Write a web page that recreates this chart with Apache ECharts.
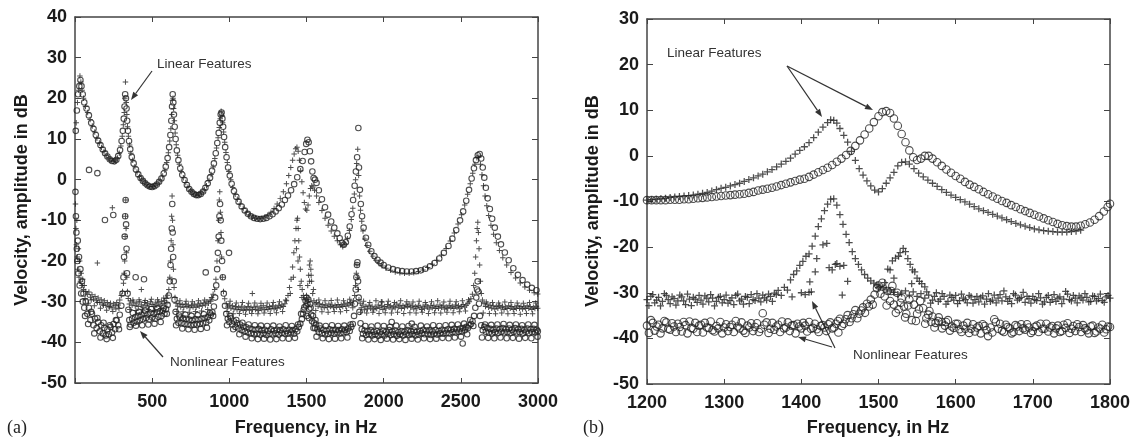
<!DOCTYPE html>
<html>
<head>
<meta charset="utf-8">
<script src="https://cdn.jsdelivr.net/npm/echarts@6/dist/echarts.min.js"></script>
<style>
  html, body { margin: 0; padding: 0; background: #fff; }
  #chart { width: 1140px; height: 443px; }
</style>
</head>
<body>
<div id="chart"></div>
<script>
// (a) full band, 0-3000 Hz  [frequency Hz, amplitude dB]
var linCircA = [[5,12],[12,17],[20,21],[28,23],[35,24.5],[42,23],[50,21],[60,19],[75,17.5],[90,15.8],[105,14],[120,12.5],[135,11],[150,9.6],[165,8.5],[180,7.4],[195,6.5],[210,5.7],[225,5],[240,4.6],[255,4.5],[268,4.9],[280,5.8],[292,7.3],[302,9.5],[310,12],[316,15],[321,18],[325,21],[330,20],[334,17.5],[338,14.5],[343,12],[350,9.5],[358,7.5],[368,5.6],[380,4],[395,2.5],[410,1.3],[425,0.4],[440,-0.3],[455,-0.9],[470,-1.4],[485,-1.7],[500,-1.8],[515,-1.6],[530,-1.2],[545,-0.5],[560,0.3],[575,1.5],[588,3.2],[600,5.3],[610,8],[618,11],[624,14.5],[629,18],[633,21],[637,19],[641,16],[646,13],[652,10],[660,7.2],[670,4.8],[682,2.8],[695,1.2],[710,-0.1],[725,-1.3],[740,-2.3],[755,-3],[770,-3.5],[785,-3.8],[800,-3.8],[815,-3.5],[830,-2.9],[845,-2],[860,-0.9],[875,0.5],[888,2.2],[900,4],[912,6.5],[922,9],[931,11.5],[938,14],[944,16],[950,16.5],[955,15],[960,13],[966,10.5],[973,8],[982,5.5],[992,3],[1003,1],[1015,-1],[1030,-2.8],[1045,-4.2],[1060,-5.4],[1080,-6.6],[1100,-7.6],[1120,-8.4],[1140,-9],[1160,-9.4],[1180,-9.6],[1200,-9.7],[1220,-9.6],[1240,-9.4],[1260,-9],[1280,-8.5],[1300,-7.8],[1320,-7],[1340,-6.1],[1360,-5],[1380,-3.9],[1400,-2.6],[1420,-1.1],[1440,0.6],[1460,2.6],[1475,4.6],[1488,6.8],[1498,8.8],[1506,9.8],[1514,9.2],[1522,7],[1530,4.5],[1538,2],[1546,0.4],[1555,0],[1565,-0.8],[1580,-2.6],[1600,-4.8],[1620,-6.8],[1640,-8.6],[1660,-10.3],[1680,-11.8],[1700,-13.2],[1715,-14.4],[1730,-15.5],[1742,-16],[1755,-15.4],[1768,-13.8],[1780,-11.5],[1792,-8.5],[1802,-5],[1812,-1.5],[1820,2],[1828,5.5],[1836,12.7],[1840,3],[1846,-2.5],[1852,-6],[1860,-9],[1870,-11.8],[1885,-14.3],[1900,-16],[1920,-17.6],[1940,-18.8],[1960,-19.7],[1980,-20.4],[2000,-21],[2030,-21.6],[2060,-22],[2090,-22.3],[2120,-22.5],[2150,-22.6],[2180,-22.6],[2210,-22.5],[2240,-22.3],[2270,-21.9],[2300,-21.3],[2330,-20.5],[2360,-19.4],[2390,-18],[2420,-16.3],[2445,-14.5],[2470,-12.4],[2495,-10],[2515,-7.8],[2535,-5.2],[2553,-2.5],[2570,0.3],[2585,2.8],[2598,4.8],[2610,6],[2622,6.3],[2632,5.2],[2642,3],[2652,0.5],[2662,-2],[2674,-4.6],[2688,-7.2],[2703,-9.6],[2720,-11.8],[2740,-14],[2760,-15.9],[2785,-17.9],[2810,-19.8],[2840,-21.8],[2870,-23.4],[2900,-24.7],[2930,-25.8],[2960,-26.6],[2990,-27.2]];

var linPlusA = [[8,14],[16,19],[24,22],[32,25.5],[38,24],[46,22],[55,20],[68,18],[82,16.5],[98,14.8],[112,13.2],[128,11.7],[142,10.2],[158,9],[172,7.9],[188,6.9],[202,6],[218,5.3],[232,4.8],[248,4.5],[262,4.6],[275,5.3],[287,6.5],[297,8.3],[306,10.7],[313,13.5],[319,16.5],[323,20],[327,24],[332,19],[336,16],[340,13],[346,10.7],[354,8.5],[362,6.5],[374,4.8],[388,3.2],[402,1.9],[418,0.8],[432,0],[448,-0.6],[462,-1.2],[478,-1.6],[492,-1.8],[508,-1.7],[522,-1.4],[538,-0.9],[552,-0.1],[568,0.9],[582,2.3],[594,4.2],[605,6.6],[614,9.5],[621,12.5],[627,16],[631,19.5],[635,20],[639,17.5],[644,14.5],[649,11.5],[656,8.6],[665,6],[676,3.8],[688,2],[702,0.5],[718,-0.7],[732,-1.8],[748,-2.7],[762,-3.3],[778,-3.7],[792,-3.9],[808,-3.7],[822,-3.2],[838,-2.5],[852,-1.5],[868,-0.2],[882,1.3],[895,3.1],[906,5.2],[917,7.8],[927,10.3],[935,12.8],[941,15],[947,16.8],[952,15.8],[957,14],[963,11.7],[970,9.2],[978,6.7],[987,4.2],[997,2],[1009,0],[1022,-1.9],[1038,-3.6],[1052,-4.8],[1070,-6],[1090,-7.1],[1110,-8],[1130,-8.7],[1150,-9.2],[1170,-9.5],[1190,-9.6],[1210,-9.5],[1230,-9.2],[1250,-8.7],[1270,-8],[1290,-7.1],[1310,-6],[1330,-4.6],[1350,-3],[1370,-1],[1385,1],[1398,3],[1410,4.8],[1420,6.3],[1430,7.6],[1438,8],[1446,7],[1454,4.8],[1462,2.2],[1470,-0.5],[1478,-3.2],[1486,-5.6],[1494,-7.2],[1502,-7.5],[1510,-6.2],[1518,-4],[1526,-2.2],[1534,-1.5],[1542,-1.8],[1552,-2.6],[1565,-4],[1580,-5.6],[1600,-7.6],[1620,-9.5],[1640,-11.2],[1660,-12.6],[1680,-13.9],[1700,-15],[1720,-16],[1735,-16.5],[1750,-15.8],[1765,-14.5],[1778,-12.5],[1790,-9.8],[1800,-7],[1810,-3.5],[1818,0],[1825,4],[1832,7.5],[1838,1],[1844,-4],[1850,-7.5],[1858,-10.2],[1866,-12.6],[1878,-14.6],[1892,-16.2],[1910,-17.6],[1930,-18.8],[1950,-19.8],[1970,-20.6],[1990,-21.2],[2015,-21.8],[2045,-22.3],[2075,-22.7],[2105,-22.9],[2135,-23],[2165,-23],[2195,-22.9],[2225,-22.6],[2255,-22.2],[2285,-21.6],[2315,-20.8],[2345,-19.8],[2375,-18.5],[2405,-16.9],[2432,-15.1],[2458,-13.1],[2482,-10.9],[2505,-8.6],[2525,-6.2],[2544,-3.6],[2561,-1],[2577,1.6],[2591,3.8],[2604,5.4],[2616,5.5],[2627,3.8],[2637,1.2],[2647,-1.5],[2657,-4],[2668,-6.4],[2680,-8.8],[2695,-11.2],[2712,-13.4],[2730,-15.5],[2750,-17.4],[2772,-19.2],[2797,-21],[2825,-22.8],[2855,-24.2],[2885,-25.4],[2915,-26.4],[2945,-27.2],[2975,-27.8],[2998,-28.1]];

var nlPlusA = [[3,-6],[6,-12],[9,-16],[12,-10],[15,-19],[18,-22],[22,-17],[26,-24],[30,-20],[35,-25],[40,-23],[45,-26],[50,-24.5],[55,-27],[60,-26],[70,-27.5],[80,-28.2],[90,-27.6],[100,-28.9],[110,-28.3],[120,-29.4],[130,-28.7],[140,-29.8],[150,-29.1],[160,-30.2],[170,-29.5],[180,-30.6],[190,-29.8],[200,-30.9],[210,-30.2],[220,-31.2],[230,-30.4],[240,-31.5],[250,-30.6],[260,-31],[270,-30.2],[280,-30.8],[290,-29.6],[300,-28.5],[308,-27.5],[314,-25.5],[318,-23],[322,-20],[325,-14],[327,-9],[329,-5],[331,-12],[333,-18],[336,-24],[340,-27.5],[345,-29.2],[352,-30.6],[360,-29.8],[370,-30.9],[380,-30.1],[390,-31],[400,-30.3],[410,-31.2],[420,-30],[430,-30.8],[440,-31.3],[450,-30.2],[460,-30.9],[470,-30.4],[480,-31.1],[490,-30],[500,-30.7],[510,-31.2],[520,-30.3],[530,-30.9],[540,-30.1],[550,-30.8],[560,-29.9],[570,-30.5],[580,-29.8],[590,-29.2],[600,-28.4],[608,-27],[614,-24],[619,-20],[623,-15],[626,-9],[629,-4],[632,-10],[635,-16],[638,-22],[642,-26.5],[648,-29],[655,-30.4],[665,-31.1],[675,-30.5],[685,-31.3],[695,-30.7],[705,-31.4],[715,-30.6],[725,-31.2],[735,-30.8],[745,-31.5],[755,-30.9],[765,-31.3],[775,-30.6],[785,-31.4],[795,-30.8],[805,-31.1],[815,-30.4],[825,-31],[835,-30.3],[845,-30.8],[855,-30],[865,-30.4],[875,-29.6],[885,-29],[895,-28.2],[905,-27],[913,-24.5],[920,-20],[926,-15],[931,-10],[935,-5],[938,-3],[942,-8],[946,-13],[950,-19],[955,-24],[962,-27.5],[970,-29.3],[980,-30.5],[990,-31.3],[1000,-30.8],[1010,-31.6],[1020,-31],[1030,-31.8],[1040,-31.2],[1050,-32],[1060,-31.4],[1070,-31.9],[1080,-31.1],[1090,-32.2],[1100,-31.5],[1110,-31.9],[1120,-31.2],[1130,-32.1],[1140,-31.4],[1150,-32],[1160,-31.3],[1170,-31.9],[1180,-31.1],[1190,-32.2],[1200,-31.5],[1210,-31.8],[1220,-31],[1230,-32],[1240,-31.4],[1250,-31.9],[1260,-31.2],[1270,-31.7],[1280,-31],[1290,-31.8],[1300,-31.3],[1310,-31.6],[1320,-30.9],[1330,-31.4],[1340,-30.8],[1350,-31.2],[1360,-30.5],[1370,-29.8],[1380,-28.5],[1390,-26.5],[1400,-24.5],[1410,-21.5],[1418,-18],[1425,-15],[1432,-12],[1438,-10],[1442,-9.5],[1446,-12],[1450,-15],[1455,-19],[1460,-22],[1466,-25],[1472,-27],[1480,-28.5],[1490,-29.5],[1500,-28.5],[1508,-26],[1514,-23.5],[1519,-21],[1524,-20],[1528,-22],[1533,-25],[1540,-28],[1548,-29.8],[1556,-30.6],[1565,-30.2],[1575,-31.1],[1585,-30.5],[1595,-31.3],[1605,-30.7],[1615,-31.5],[1625,-30.9],[1635,-31.4],[1645,-30.6],[1655,-31.2],[1665,-30.8],[1675,-31.5],[1685,-30.9],[1695,-31.3],[1705,-30.7],[1715,-31.4],[1725,-30.8],[1735,-31.2],[1745,-30.6],[1755,-31.1],[1765,-30.3],[1775,-30.9],[1785,-30.2],[1795,-30.6],[1805,-29.8],[1812,-28.5],[1818,-26],[1823,-23],[1827,-21],[1831,-24],[1835,-27],[1840,-29.5],[1848,-30.4],[1855,-31.5],[1865,-30.8],[1875,-32],[1885,-31.2],[1895,-31.8],[1905,-30.9],[1915,-31.6],[1925,-31.1],[1935,-32],[1945,-31.3],[1955,-31.7],[1965,-30.8],[1975,-31.5],[1985,-31],[1995,-31.9],[2005,-31.2],[2015,-31.6],[2025,-30.7],[2035,-31.4],[2045,-31],[2055,-31.8],[2065,-31.1],[2075,-31.5],[2085,-30.6],[2095,-31.3],[2105,-30.9],[2115,-31.7],[2125,-31],[2135,-31.5],[2145,-30.8],[2155,-31.2],[2165,-30.6],[2175,-31.4],[2185,-31],[2195,-31.8],[2205,-31.2],[2215,-31.6],[2225,-30.9],[2235,-31.4],[2245,-31.9],[2255,-31.1],[2265,-31.6],[2275,-30.8],[2285,-31.3],[2295,-31.8],[2305,-31],[2315,-31.5],[2325,-30.9],[2335,-31.7],[2345,-31.2],[2355,-31.6],[2365,-30.8],[2375,-31.4],[2385,-31],[2395,-31.8],[2405,-31.3],[2415,-31.6],[2425,-30.9],[2435,-31.5],[2445,-31.1],[2455,-31.7],[2465,-30.8],[2475,-31.4],[2485,-31],[2495,-31.6],[2505,-31.2],[2515,-30.7],[2525,-31.3],[2535,-30.9],[2545,-30.4],[2555,-30],[2565,-29.3],[2575,-28.2],[2583,-26],[2590,-23],[2596,-19],[2601,-15],[2606,-12],[2610,-10.5],[2614,-13],[2618,-17],[2622,-21],[2627,-25],[2633,-28],[2640,-29.6],[2650,-30.4],[2660,-31.2],[2670,-30.6],[2680,-31.4],[2690,-30.9],[2700,-31.6],[2710,-31],[2720,-31.8],[2730,-31.2],[2740,-31.6],[2750,-30.9],[2760,-31.5],[2770,-31.1],[2780,-31.9],[2790,-31.3],[2800,-31.7],[2810,-31],[2820,-31.6],[2830,-31.2],[2840,-31.9],[2850,-31.3],[2860,-31.7],[2870,-31],[2880,-31.6],[2890,-31.2],[2900,-31.8],[2910,-31.3],[2920,-31.7],[2930,-31],[2940,-31.6],[2950,-31.2],[2960,-31.9],[2970,-31.4],[2980,-31.7],[2990,-31.1],[2998,-31.6],
  [145,-20.5],[242,-6.9],[430,-27],[1149,-28],[1985,-30]];

// second sweep of the same band, read from the lower and upper edges
var nlPlusA2 = [[65,-29.2],[85,-30.4],[105,-29.6],[125,-31],[145,-30.2],[165,-31.6],[185,-30.9],[205,-32.1],[225,-31.3],[245,-32.4],[265,-31.8],[285,-31.6],[355,-31.9],[375,-29.6],[395,-32.2],[415,-29.5],[435,-32],[455,-29.7],[475,-31.9],[495,-29.4],[515,-32.1],[535,-29.5],[555,-31.7],[575,-29.1],[595,-30.3],[660,-32.4],[680,-29.8],[700,-32.5],[720,-29.9],[740,-32.6],[760,-30],[780,-32.4],[800,-29.8],[820,-32.3],[840,-29.6],[860,-31.9],[880,-29.9],[985,-32.4],[1005,-29.9],[1025,-33],[1045,-30.3],[1065,-32.9],[1085,-30.2],[1105,-33.1],[1125,-30.4],[1145,-32.9],[1165,-30.3],[1185,-33],[1205,-30.4],[1225,-32.8],[1245,-30.3],[1265,-32.9],[1285,-30.2],[1305,-32.7],[1325,-30],[1345,-32.4],[1365,-29.6],[1395,-28],[1415,-24],[1435,-17],[1445,-20],[1458,-26],[1470,-29],[1510,-29.5],[1520,-25],[1530,-23.5],[1545,-27],[1560,-32.2],[1580,-29.6],[1600,-32.5],[1620,-29.8],[1640,-32.6],[1660,-29.7],[1680,-32.4],[1700,-29.6],[1720,-32.5],[1740,-29.8],[1760,-32.2],[1780,-29.4],[1800,-31.5],[1850,-32.6],[1870,-29.9],[1890,-32.8],[1910,-30.2],[1930,-32.6],[1950,-29.8],[1970,-32.9],[1990,-30.1],[2010,-32.7],[2030,-29.9],[2050,-32.8],[2070,-30.2],[2090,-32.6],[2110,-29.8],[2130,-32.9],[2150,-30],[2170,-32.7],[2190,-30.1],[2210,-32.8],[2230,-29.9],[2250,-32.6],[2270,-30.2],[2290,-32.9],[2310,-30],[2330,-32.7],[2350,-29.8],[2370,-32.8],[2390,-30.1],[2410,-32.6],[2430,-29.9],[2450,-32.7],[2470,-30],[2490,-32.5],[2510,-29.8],[2530,-32.3],[2550,-29.5],[2645,-32.8],[2665,-30.1],[2685,-32.9],[2705,-30.2],[2725,-33],[2745,-30.3],[2765,-32.8],[2785,-30.1],[2805,-33],[2825,-30.2],[2845,-32.9],[2865,-30.3],[2885,-33.1],[2905,-30.4],[2925,-32.9],[2945,-30.2],[2965,-33],[2985,-30.3]];

var nlCircA = [[3,-3],[6,-9],[9,-13],[12,-17],[15,-20],[18,-15],[22,-23],[26,-19],[30,-26],[35,-22],[40,-28],[45,-25],[50,-30],[55,-28],[60,-31.5],[70,-30],[80,-33],[90,-31.5],[100,-34.5],[110,-33],[120,-35.8],[130,-34.2],[140,-36.5],[150,-35],[160,-37.3],[170,-35.8],[180,-37.8],[190,-36.4],[200,-38.3],[210,-36.8],[220,-38],[230,-36.2],[240,-37.6],[250,-35.5],[260,-36.8],[270,-34.6],[280,-35.8],[290,-33.2],[300,-31],[308,-28],[314,-24],[318,-19],[322,-14],[325,-9],[328,-5],[331,-11],[334,-17],[337,-23],[341,-28],[346,-32],[352,-34.5],[360,-35.6],[370,-34.2],[380,-35.2],[390,-33.8],[400,-34.9],[410,-33.5],[420,-34.6],[430,-33.2],[440,-34.3],[450,-32.9],[460,-34],[470,-33.1],[480,-34.4],[490,-32.8],[500,-33.9],[510,-33],[520,-34.2],[530,-32.6],[540,-33.7],[550,-32.4],[560,-33.5],[570,-32.2],[580,-33],[590,-31.8],[600,-30.8],[608,-28.5],[614,-25],[619,-21],[623,-17],[627,-12],[630,-6],[633,-13],[636,-19],[640,-25],[645,-29.5],[652,-32.5],[660,-34.2],[670,-35.2],[680,-33.9],[690,-35.3],[700,-34.1],[710,-35.5],[720,-34.2],[730,-35.6],[740,-34.4],[750,-35.8],[760,-34.5],[770,-35.7],[780,-34.3],[790,-35.6],[800,-34.4],[810,-35.5],[820,-34.2],[830,-35.3],[840,-34],[850,-35.1],[860,-33.8],[870,-34.6],[880,-33.2],[890,-32.6],[900,-31.2],[908,-29],[915,-26],[921,-22],[926,-18],[931,-14],[936,-9],[940,-6],[944,-10],[948,-15],[953,-20],[958,-24],[964,-28],[972,-31],[980,-33],[990,-34.2],[1000,-35],[1010,-34.1],[1020,-35.6],[1030,-34.8],[1040,-36.2],[1050,-35.3],[1060,-36.6],[1070,-35.6],[1080,-37],[1090,-36.1],[1100,-37.3],[1110,-36.3],[1120,-37.6],[1130,-36.6],[1140,-37.8],[1150,-36.8],[1160,-38],[1170,-36.9],[1180,-37.9],[1190,-36.7],[1200,-38.1],[1210,-37],[1220,-37.8],[1230,-36.9],[1240,-38.2],[1250,-37.2],[1260,-37.9],[1270,-36.8],[1280,-38],[1290,-37.1],[1300,-37.8],[1310,-36.9],[1320,-38.1],[1330,-37],[1340,-37.7],[1350,-36.8],[1360,-37.9],[1370,-37.2],[1380,-37.8],[1390,-36.9],[1400,-37.6],[1410,-37],[1420,-37.9],[1430,-36.8],[1440,-37.3],[1450,-36.2],[1460,-35.4],[1470,-34.3],[1478,-33],[1486,-31.4],[1494,-29.8],[1500,-29],[1506,-30.5],[1512,-29.5],[1518,-31.8],[1524,-30.6],[1530,-33.2],[1536,-34.8],[1542,-33.5],[1548,-35.2],[1555,-36.4],[1562,-35.6],[1570,-36.8],[1580,-37.5],[1590,-36.6],[1600,-37.8],[1610,-36.9],[1620,-38],[1630,-37.1],[1640,-37.9],[1650,-36.8],[1660,-37.7],[1670,-37],[1680,-37.9],[1690,-36.9],[1700,-37.6],[1710,-37],[1720,-37.8],[1730,-36.8],[1740,-37.6],[1750,-36.9],[1760,-37.5],[1770,-36.6],[1780,-37.2],[1790,-36.2],[1800,-35.5],[1808,-33.5],[1814,-30.5],[1819,-27],[1823,-24],[1827,-21],[1830,-20.3],[1834,-25],[1838,-29],[1843,-32.5],[1850,-35.3],[1858,-36.8],[1866,-37.9],[1876,-37.1],[1886,-38.2],[1896,-37.3],[1906,-38],[1916,-37],[1926,-38.3],[1936,-37.4],[1946,-38.1],[1956,-37.2],[1966,-38.4],[1976,-37.5],[1986,-38],[1996,-37.1],[2006,-38.3],[2016,-37.4],[2026,-37.9],[2036,-37],[2046,-38.2],[2056,-37.3],[2066,-38],[2076,-37.1],[2086,-38.4],[2096,-37.5],[2106,-38.1],[2116,-37.2],[2126,-38.3],[2136,-37.4],[2146,-37.9],[2156,-37],[2166,-38.2],[2176,-37.3],[2186,-38],[2196,-37.1],[2206,-38.3],[2216,-37.4],[2226,-38.1],[2236,-37.2],[2246,-37.8],[2256,-36.9],[2266,-38],[2276,-37.1],[2286,-37.9],[2296,-37],[2306,-38.2],[2316,-37.3],[2326,-37.9],[2336,-37],[2346,-38.1],[2356,-37.2],[2366,-37.8],[2376,-36.9],[2386,-37.9],[2396,-37.1],[2406,-37.7],[2416,-36.8],[2426,-37.8],[2436,-36.9],[2446,-37.5],[2456,-36.7],[2466,-37.6],[2476,-36.8],[2486,-37.4],[2496,-36.6],[2506,-37.3],[2516,-36.5],[2526,-37],[2536,-36.2],[2546,-36.5],[2556,-35.8],[2566,-35.5],[2576,-34.8],[2586,-33.5],[2594,-31.5],[2600,-29],[2605,-27],[2609,-25],[2613,-27.5],[2618,-30.5],[2624,-33.5],[2632,-35.8],[2642,-37],[2652,-36.2],[2662,-37.4],[2672,-36.5],[2682,-37.6],[2692,-36.7],[2702,-37.8],[2712,-36.9],[2722,-37.5],[2732,-36.6],[2742,-37.7],[2752,-36.8],[2762,-37.4],[2772,-36.5],[2782,-37.6],[2792,-36.8],[2802,-37.5],[2812,-36.6],[2822,-37.7],[2832,-36.9],[2842,-37.4],[2852,-36.5],[2862,-37.6],[2872,-36.8],[2882,-37.5],[2892,-36.7],[2902,-37.8],[2912,-36.9],[2922,-37.4],[2932,-36.6],[2942,-37.7],[2952,-36.8],[2962,-37.5],[2972,-36.7],[2982,-37.6],[2992,-36.9],[2999,-37.3],
  [91,2.4],[145,1.6],[194,-9.9],[248,-8.7],[393,-24],[447,-24.5],[847,-22.8],[998,-18],[2052,-35],[2182,-35.4],[2512,-40.3]];

var nlCircA2 = [[65,-33.5],[85,-35.5],[105,-32.5],[125,-37.8],[145,-34],[165,-38.8],[185,-35.2],[205,-39.2],[225,-35.8],[245,-38.9],[265,-34.5],[285,-36.8],[355,-36.2],[375,-32.8],[395,-35.9],[415,-32.5],[435,-35.8],[455,-32.2],[475,-35.6],[495,-31.8],[515,-35.4],[535,-31.7],[555,-35],[575,-31.5],[595,-33],[655,-35.8],[675,-33.4],[695,-36.6],[715,-33.2],[735,-36.8],[755,-33.5],[775,-36.9],[795,-33.3],[815,-36.7],[835,-33.1],[855,-36.4],[875,-32.8],[895,-33.5],[985,-35.8],[1005,-33.5],[1025,-36.8],[1045,-34.5],[1065,-38],[1085,-35.2],[1105,-38.6],[1125,-35.6],[1145,-39],[1165,-35.8],[1185,-39.2],[1205,-35.9],[1225,-39.1],[1245,-36],[1265,-39.3],[1285,-35.9],[1305,-39.2],[1325,-36.1],[1345,-39],[1365,-35.8],[1385,-39.1],[1405,-36],[1425,-38.9],[1445,-35.6],[1465,-33],[1482,-32],[1497,-31],[1503,-33.5],[1515,-34],[1527,-31.5],[1545,-36.5],[1558,-34.5],[1565,-38.6],[1585,-35.9],[1605,-39],[1625,-36],[1645,-39.2],[1665,-35.8],[1685,-39.1],[1705,-36],[1725,-39],[1745,-35.9],[1765,-38.8],[1785,-35.6],[1861,-39],[1881,-36],[1901,-39.3],[1921,-36.1],[1941,-39.2],[1961,-35.9],[1981,-39.4],[2001,-36],[2021,-39.1],[2041,-36.2],[2061,-39.3],[2081,-35.9],[2101,-39.2],[2121,-36.1],[2141,-39.4],[2161,-36],[2181,-39.1],[2201,-36.2],[2221,-39.3],[2241,-35.9],[2261,-39],[2281,-36.1],[2301,-39.2],[2321,-35.8],[2341,-39.1],[2361,-36],[2381,-38.9],[2401,-35.8],[2421,-39],[2441,-35.7],[2461,-38.8],[2481,-35.6],[2501,-38.6],[2521,-35.4],[2541,-38],[2561,-34.5],[2581,-36],[2637,-38.8],[2657,-35.6],[2677,-38.9],[2697,-35.7],[2717,-39],[2737,-35.6],[2757,-38.8],[2777,-35.5],[2797,-39],[2817,-35.7],[2837,-38.9],[2857,-35.6],[2877,-39.1],[2897,-35.8],[2917,-38.9],[2937,-35.6],[2957,-39],[2977,-35.7],[2997,-38.6]];

// (b) zoom, 1200-1800 Hz
var linCircB = [[1200,-9.7],[1206,-9.7],[1212,-9.7],[1218,-9.7],[1224,-9.7],[1230,-9.6],[1236,-9.6],[1242,-9.6],[1248,-9.5],[1254,-9.5],[1260,-9.4],[1266,-9.3],[1272,-9.2],[1278,-9.1],[1284,-9],[1290,-8.9],[1296,-8.8],[1302,-8.7],[1308,-8.6],[1314,-8.5],[1320,-8.4],[1326,-8.3],[1332,-8.1],[1338,-7.9],[1344,-7.6],[1350,-7.4],[1356,-7.2],[1362,-7],[1368,-6.7],[1374,-6.4],[1380,-6.1],[1386,-5.8],[1392,-5.5],[1398,-5.2],[1404,-5],[1410,-4.6],[1416,-4.1],[1422,-3.6],[1428,-3.1],[1434,-2.6],[1440,-2],[1446,-1.3],[1452,-0.6],[1458,0.2],[1464,1.1],[1470,2.2],[1476,3.4],[1482,4.7],[1488,6],[1494,7.4],[1500,8.7],[1505,9.6],[1510,9.8],[1515,9.4],[1520,8.2],[1525,6.6],[1530,4.8],[1535,3],[1540,1.2],[1545,-0.3],[1550,-0.9],[1555,-0.6],[1560,0],[1565,0],[1570,-0.6],[1576,-1.4],[1582,-2.2],[1588,-3],[1594,-3.7],[1600,-4.4],[1606,-5],[1612,-5.7],[1618,-6.3],[1624,-6.8],[1630,-7.3],[1636,-7.9],[1642,-8.4],[1648,-8.9],[1654,-9.4],[1660,-9.9],[1666,-10.3],[1672,-10.8],[1678,-11.2],[1684,-11.7],[1690,-12.1],[1696,-12.5],[1702,-12.9],[1708,-13.3],[1714,-13.7],[1720,-14.1],[1726,-14.5],[1732,-14.9],[1738,-15.2],[1744,-15.4],[1750,-15.5],[1756,-15.5],[1762,-15.3],[1768,-15],[1774,-14.6],[1780,-14],[1786,-13.2],[1792,-12.2],[1797,-11.2],[1800,-10.5]];

var linPlusB = [[1200,-9.7],[1206,-9.6],[1212,-9.5],[1218,-9.4],[1224,-9.3],[1230,-9.1],[1236,-9],[1242,-8.9],[1248,-8.8],[1254,-8.7],[1260,-8.6],[1266,-8.4],[1272,-8.2],[1278,-8],[1284,-7.7],[1290,-7.4],[1296,-7.1],[1302,-6.9],[1308,-6.6],[1314,-6.3],[1320,-6],[1326,-5.6],[1332,-5.2],[1338,-4.8],[1344,-4.4],[1350,-4],[1356,-3.5],[1362,-3],[1368,-2.4],[1374,-1.8],[1380,-1.2],[1386,-0.5],[1392,0.4],[1398,1.2],[1404,2],[1410,2.9],[1416,4],[1422,5.2],[1428,6.3],[1434,7.3],[1438,7.9],[1442,7.8],[1446,7.2],[1450,6],[1455,4.5],[1460,3],[1465,1],[1470,-1],[1475,-2.8],[1480,-4.2],[1485,-5.5],[1490,-6.6],[1495,-7.5],[1500,-7.9],[1505,-7.2],[1510,-6],[1515,-4.8],[1520,-3.6],[1525,-2.2],[1530,-1.4],[1535,-1.3],[1540,-1.8],[1546,-2.8],[1552,-3.8],[1558,-4.6],[1564,-5.3],[1570,-6],[1576,-6.7],[1582,-7.4],[1588,-8],[1594,-8.6],[1600,-9.1],[1606,-9.6],[1612,-10.1],[1618,-10.6],[1624,-11.1],[1630,-11.6],[1636,-12],[1642,-12.4],[1648,-12.8],[1654,-13.2],[1660,-13.6],[1666,-14],[1672,-14.4],[1678,-14.8],[1684,-15.1],[1690,-15.4],[1696,-15.7],[1702,-16],[1708,-16.2],[1714,-16.4],[1720,-16.5],[1726,-16.6],[1732,-16.7],[1738,-16.7],[1744,-16.7],[1750,-16.6],[1756,-16.5],[1762,-16.3]];

var nlPlusB = [[1200,-31.5],[1205,-30.8],[1210,-32.2],[1215,-31],[1220,-31.9],[1225,-30.6],[1230,-32.4],[1235,-31.3],[1240,-31.8],[1245,-30.9],[1250,-32.6],[1255,-31.4],[1260,-31],[1265,-32.1],[1270,-31.6],[1275,-30.7],[1280,-32],[1285,-31.2],[1290,-31.9],[1295,-30.8],[1300,-31.5],[1305,-32.3],[1310,-31.1],[1315,-30.6],[1320,-31.8],[1325,-32.5],[1330,-31],[1335,-30.4],[1340,-31.7],[1345,-31.2],[1350,-30.5],[1355,-31.6],[1360,-30.8],[1365,-30.1],[1370,-29.5],[1374,-30.6],[1378,-28.8],[1382,-29.4],[1386,-27.2],[1390,-26],[1394,-25.2],[1398,-24],[1402,-23.1],[1406,-22],[1410,-21.5],[1414,-19.8],[1418,-17.6],[1422,-15.5],[1426,-13.8],[1430,-12],[1434,-10.6],[1438,-9.5],[1442,-9.4],[1446,-10.8],[1450,-12.9],[1454,-15],[1458,-17.2],[1462,-19],[1466,-21],[1470,-22.5],[1474,-23.8],[1478,-25],[1482,-26],[1486,-26.8],[1490,-27.4],[1494,-27.9],[1498,-28.3],[1502,-28.6],[1506,-28.9],[1510,-29.2],[1515,-29.6],[1520,-29.9],[1525,-30.4],[1530,-30.1],[1535,-29.6],[1540,-30.5],[1545,-29.8],[1550,-30.8],[1555,-30.2],[1560,-31.2],[1565,-30.5],[1570,-31.6],[1575,-30],[1580,-31.4],[1585,-30.8],[1590,-31.9],[1595,-31],[1600,-30.6],[1605,-31.7],[1610,-31.2],[1615,-32.2],[1620,-30.9],[1625,-31.5],[1630,-32],[1635,-30.7],[1640,-31.4],[1645,-31.9],[1650,-30.5],[1655,-31.2],[1660,-31.8],[1665,-30.9],[1670,-31.3],[1675,-30.2],[1680,-31.6],[1685,-31],[1690,-32.1],[1695,-31.3],[1700,-30.8],[1705,-31.7],[1710,-31.1],[1715,-32],[1720,-30.6],[1725,-31.5],[1730,-31.9],[1735,-30.9],[1740,-31.4],[1745,-30.3],[1750,-31.8],[1755,-31.2],[1760,-30.7],[1765,-31.6],[1770,-31],[1775,-31.9],[1780,-30.8],[1785,-31.3],[1790,-31.7],[1795,-30.9],[1800,-31.2],
  [1388,-30.9],[1400,-30],[1405,-30.4],[1410,-29.9],[1413,-29.8],[1418,-25.4],[1411,-27.6],[1420,-22.5],[1428,-19.5],[1433,-19.2],[1436,-24.5],[1440,-25],[1444,-23.8],[1446,-23.6],[1450,-24.2],[1455,-24],[1453,-30.5],[1460,-27.5],[1512,-24.8],[1515,-25],[1518,-23],[1522,-22.4],[1526,-22],[1528,-21.2],[1532,-20.3],[1535,-21],[1538,-22.5],[1541,-23.8],[1544,-25],[1547,-25.4],[1550,-26.8],[1553,-27.5],[1556,-28],[1560,-28.7],[1543,-28],[1520,-26.8],[1508,-27.8],[1500,-28.9]];

var nlPlusB2 = [[1202.5,-32.8],[1207.5,-30.4],[1212.5,-31.6],[1217.5,-32.9],[1222.5,-30.2],[1227.5,-31.5],[1232.5,-30.9],[1237.5,-32.7],[1242.5,-30.5],[1247.5,-31.8],[1252.5,-30.3],[1257.5,-32.8],[1262.5,-31.4],[1267.5,-30.6],[1272.5,-32.5],[1277.5,-31.2],[1282.5,-30.4],[1287.5,-32.9],[1292.5,-31],[1297.5,-32.2],[1302.5,-30.5],[1307.5,-31.7],[1312.5,-32.6],[1317.5,-30.3],[1322.5,-31.4],[1327.5,-30.8],[1332.5,-32.4],[1337.5,-31.5],[1342.5,-30.2],[1347.5,-32],[1352.5,-31.1],[1357.5,-30.3],[1362.5,-31.9],[1367.5,-30.4],[1562.5,-29.8],[1567.5,-32.3],[1572.5,-30.8],[1577.5,-31.9],[1582.5,-30.2],[1587.5,-32.5],[1592.5,-30.5],[1597.5,-31.6],[1602.5,-32.4],[1607.5,-30.3],[1612.5,-31.5],[1617.5,-30.6],[1622.5,-32.3],[1627.5,-30.8],[1632.5,-31.1],[1637.5,-32.5],[1642.5,-30.2],[1647.5,-31.6],[1652.5,-32.2],[1657.5,-30.4],[1662.5,-29.6],[1667.5,-31.9],[1672.5,-32.4],[1677.5,-30.5],[1682.5,-31.3],[1687.5,-29.9],[1692.5,-30.8],[1697.5,-32.3],[1702.5,-31.5],[1707.5,-30.2],[1712.5,-32.5],[1717.5,-31],[1722.5,-32.1],[1727.5,-30.4],[1732.5,-31.2],[1737.5,-32.4],[1742.5,-29.7],[1747.5,-31.5],[1752.5,-30.6],[1757.5,-32.2],[1762.5,-31.1],[1767.5,-30.2],[1772.5,-32],[1777.5,-30.7],[1782.5,-31.8],[1787.5,-30.3],[1792.5,-32.1],[1797.5,-30.6]];

var nlCircB = [[1200,-37.2],[1205,-36],[1210,-38.3],[1215,-37],[1220,-37.8],[1225,-36.5],[1230,-38.1],[1235,-37.4],[1240,-36.8],[1245,-38.5],[1250,-37.1],[1255,-36.3],[1260,-37.9],[1265,-38.6],[1270,-37],[1275,-36.6],[1280,-37.7],[1285,-38.2],[1290,-37.3],[1295,-36.4],[1300,-37.6],[1305,-38.4],[1310,-37],[1315,-36.2],[1320,-37.8],[1325,-38.3],[1330,-37.2],[1335,-36.7],[1340,-37.5],[1345,-38.6],[1350,-34.5],[1352,-37],[1355,-36.5],[1360,-37.9],[1365,-38.1],[1370,-37],[1375,-36.3],[1380,-37.6],[1385,-38.4],[1390,-37.1],[1395,-36.8],[1400,-37.8],[1405,-37.2],[1410,-36.4],[1415,-37.7],[1420,-38],[1425,-37.3],[1430,-37.6],[1435,-36.9],[1440,-37.8],[1445,-36.8],[1448,-38.7],[1450,-35.7],[1455,-36.8],[1460,-34.9],[1465,-35.6],[1470,-33.8],[1475,-34.6],[1480,-33.2],[1485,-32.4],[1490,-31.5],[1495,-30.4],[1498,-29],[1500,-28.4],[1505,-27.8],[1508,-30.8],[1512,-29.6],[1515,-31.8],[1518,-28.5],[1520,-32.6],[1524,-30],[1526,-33.6],[1530,-31.2],[1533,-33],[1536,-34.6],[1540,-31.5],[1543,-36],[1546,-32.6],[1550,-34.6],[1554,-31.8],[1558,-33.4],[1562,-35.6],[1566,-34],[1570,-35.2],[1574,-36.6],[1578,-35.4],[1582,-36.4],[1586,-37.2],[1590,-36],[1595,-37.4],[1600,-36.8],[1605,-38],[1610,-37.2],[1615,-36.6],[1620,-37.9],[1625,-38.5],[1630,-37.3],[1635,-36.9],[1640,-38.2],[1642,-39.5],[1645,-37.6],[1650,-35.8],[1652,-36.4],[1655,-37.9],[1660,-38.3],[1665,-37],[1670,-37.8],[1675,-38.6],[1680,-37.4],[1685,-36.9],[1690,-38.1],[1695,-37.6],[1700,-38.4],[1705,-37.2],[1710,-36.8],[1715,-37.9],[1720,-38.5],[1725,-37.3],[1730,-37.8],[1735,-38.6],[1740,-37],[1745,-36.7],[1750,-37.9],[1755,-38.4],[1760,-37.5],[1765,-37.1],[1770,-38.2],[1775,-37.4],[1780,-38.8],[1785,-37.6],[1790,-37],[1795,-38],[1800,-37.5]];

var nlCircB2 = [[1202.5,-38.8],[1207.5,-36.6],[1212.5,-37.4],[1217.5,-38.9],[1222.5,-36.2],[1227.5,-37.9],[1232.5,-36.7],[1237.5,-38.6],[1242.5,-37.5],[1247.5,-36.4],[1252.5,-38.9],[1257.5,-37.7],[1262.5,-36.6],[1267.5,-37.2],[1272.5,-38.7],[1277.5,-37.6],[1282.5,-36.3],[1287.5,-38.5],[1292.5,-37.8],[1297.5,-38.9],[1302.5,-36.9],[1307.5,-37.5],[1312.5,-38.6],[1317.5,-37.4],[1322.5,-36.5],[1327.5,-38.8],[1332.5,-37.6],[1337.5,-38.4],[1342.5,-36.7],[1347.5,-37.9],[1357.5,-38.8],[1362.5,-36.6],[1367.5,-37.4],[1372.5,-38.6],[1377.5,-37.8],[1382.5,-36.5],[1387.5,-37.2],[1392.5,-38.9],[1397.5,-37.4],[1402.5,-36.6],[1407.5,-38.5],[1412.5,-37.9],[1417.5,-36.8],[1422.5,-38.6],[1427.5,-37.1],[1432.5,-38.4],[1437.5,-36.5],[1442.5,-37.6],[1447.5,-36.2],[1452.5,-37.3],[1457.5,-35.8],[1462.5,-36.4],[1467.5,-34.7],[1472.5,-35.6],[1477.5,-33.9],[1482.5,-34.4],[1487.5,-33],[1492.5,-32.6],[1502.5,-30.2],[1510.5,-32.8],[1516.5,-29.6],[1522.5,-34.4],[1528.5,-32.2],[1534.5,-35.4],[1538.5,-32.8],[1548.5,-36.2],[1552.5,-33.6],[1560.5,-36.8],[1564.5,-34.8],[1568.5,-36.4],[1572.5,-37.6],[1577.5,-36.2],[1582.5,-37.8],[1587.5,-36.4],[1592.5,-38.3],[1597.5,-37.7],[1602.5,-36.8],[1607.5,-38.6],[1612.5,-37.9],[1617.5,-38.8],[1622.5,-36.9],[1627.5,-37.6],[1632.5,-38.9],[1637.5,-37.3],[1647.5,-38.7],[1657.5,-36.8],[1662.5,-38.6],[1667.5,-37.5],[1672.5,-38.9],[1677.5,-37.1],[1682.5,-38.4],[1687.5,-37.8],[1692.5,-36.9],[1697.5,-38.8],[1702.5,-37.5],[1707.5,-38.6],[1712.5,-37.9],[1717.5,-36.8],[1722.5,-37.6],[1727.5,-38.9],[1732.5,-37.2],[1737.5,-38.4],[1742.5,-37.7],[1747.5,-38.8],[1752.5,-37.3],[1757.5,-36.9],[1762.5,-38.6],[1767.5,-37.8],[1772.5,-38.9],[1777.5,-37.2],[1782.5,-38.5],[1787.5,-37.9],[1792.5,-38.7],[1797.5,-37.4]];

var ticksA = [500, 1000, 1500, 2000, 2500, 3000];

var INK = '#222';
var PLUS = 'path://M0,4.1L10,4.1L10,5.9L0,5.9Z M4.1,0L5.9,0L5.9,10L4.1,10Z';
var FONT = '"Liberation Sans", Arial, sans-serif';

function pts(name, data, idx, plus, size) {
  return {
    name: name,
    type: 'scatter',
    xAxisIndex: idx,
    yAxisIndex: idx,
    data: data,
    symbol: plus ? PLUS : 'circle',
    symbolSize: size,
    silent: true,
    itemStyle: plus
      ? { color: INK }
      : { color: 'rgba(0,0,0,0)', borderColor: INK, borderWidth: 1.1 }
  }
}

function xAx(grid, min, max, step, top, fmt) {
  return {
    type: 'value', gridIndex: grid, min: min, max: max, interval: step,
    position: top ? 'top' : 'bottom',
    axisLine: { show: true, onZero: false, lineStyle: { color: '#444', width: 1.5 } },
    axisTick: { show: true, inside: true, length: 5, lineStyle: { color: '#444' } },
    axisLabel: top ? { show: false } : {
      show: true, margin: 10, color: '#1a1a1a', fontSize: 18, fontWeight: 'bold', fontFamily: FONT,
      formatter: fmt
    },
    splitLine: { show: false }
  }
}

function yAx(grid, min, max, step, right) {
  return {
    type: 'value', gridIndex: grid, min: min, max: max, interval: step,
    position: right ? 'right' : 'left',
    axisLine: { show: true, onZero: false, lineStyle: { color: '#444', width: 1.5 } },
    axisTick: { show: true, inside: true, length: 6, lineStyle: { color: '#444' } },
    axisLabel: right ? { show: false } : {
      show: true, margin: 8, color: '#1a1a1a', fontSize: 18, fontWeight: 'bold', fontFamily: FONT
    },
    splitLine: { show: false }
  }
}

// arrow from (x1,y1) pointing at (x2,y2)
function arrow(x1, y1, x2, y2) {
  var a = Math.atan2(y2 - y1, x2 - x1), L = 8, W = 3;
  var bx = x2 - L * Math.cos(a), by = y2 - L * Math.sin(a);
  return [
    { type: 'line', silent: true, shape: { x1: x1, y1: y1, x2: bx, y2: by }, style: { stroke: '#333', lineWidth: 1.2 } },
    { type: 'polygon', silent: true, shape: { points: [[x2, y2], [bx - W * Math.sin(a), by + W * Math.cos(a)], [bx + W * Math.sin(a), by - W * Math.cos(a)]] }, style: { fill: '#333' } }
  ]
}

function label(text, x, y, opts) {
  return Object.assign({
    type: 'text', silent: true, x: x, y: y,
    style: { text: text, fill: '#333', font: '13.5px ' + FONT, textAlign: 'left', textVerticalAlign: 'middle' }
  }, opts || {})
}

var graphics = [
  label('Linear Features', 157, 64),
  label('Nonlinear Features', 170, 362),
  label('Linear Features', 667, 53),
  label('Nonlinear Features', 853, 355),
  label('(a)', 7, 428, { style: { text: '(a)', fill: '#222', font: '18px "Liberation Serif", serif', textVerticalAlign: 'middle' } }),
  label('(b)', 583, 428, { style: { text: '(b)', fill: '#222', font: '18px "Liberation Serif", serif', textVerticalAlign: 'middle' } }),
  { type: 'text', silent: true, x: 306, y: 428, style: { text: 'Frequency, in Hz', fill: '#1a1a1a', font: 'bold 18px ' + FONT, textAlign: 'center', textVerticalAlign: 'middle' } },
  { type: 'text', silent: true, x: 878, y: 428, style: { text: 'Frequency, in Hz', fill: '#1a1a1a', font: 'bold 18px ' + FONT, textAlign: 'center', textVerticalAlign: 'middle' } },
  { type: 'text', silent: true, x: 22, y: 200, rotation: Math.PI / 2, style: { text: 'Velocity, amplitude in dB', fill: '#1a1a1a', font: 'bold 18px ' + FONT, textAlign: 'center', textVerticalAlign: 'middle' } },
  { type: 'text', silent: true, x: 593, y: 201, rotation: Math.PI / 2, style: { text: 'Velocity, amplitude in dB', fill: '#1a1a1a', font: 'bold 18px ' + FONT, textAlign: 'center', textVerticalAlign: 'middle' } }
].concat(
  arrow(152, 71, 131, 100),
  arrow(163, 357, 140, 331),
  arrow(787, 66, 822, 117),
  arrow(787, 66, 873, 110),
  arrow(835, 348, 812, 301),
  arrow(832, 347, 798, 337)
);

var chart = echarts.init(document.getElementById('chart'), null, { renderer: 'canvas' });
chart.setOption({
  animation: false,
  backgroundColor: '#fff',
  grid: [
    { left: 75, top: 17, width: 463, height: 366 },
    { left: 647, top: 19, width: 463, height: 365 }
  ],
  xAxis: [
    xAx(0, 0, 3000, 500, false, function (v) { return ticksA.indexOf(v) >= 0 ? String(v) : '' }),
    xAx(0, 0, 3000, 500, true),
    xAx(1, 1200, 1800, 100, false, function (v) { return String(v) }),
    xAx(1, 1200, 1800, 100, true)
  ],
  yAxis: [
    yAx(0, -50, 40, 10, false),
    yAx(0, -50, 40, 10, true),
    yAx(1, -50, 30, 10, false),
    yAx(1, -50, 30, 10, true)
  ],
  series: [
    pts('linear o (a)', linCircA, 0, false, 5.5),
    pts('linear + (a)', linPlusA, 0, true, 5.5),
    pts('nonlinear o (a)', nlCircA, 0, false, 5.5),
    pts('nonlinear o (a), sweep 2', nlCircA2, 0, false, 5.5),
    pts('nonlinear + (a)', nlPlusA, 0, true, 5.5),
    pts('nonlinear + (a), sweep 2', nlPlusA2, 0, true, 5.5),
    pts('linear o (b)', linCircB, 2, false, 7.5),
    pts('linear + (b)', linPlusB, 2, true, 7),
    pts('nonlinear o (b)', nlCircB, 2, false, 7.5),
    pts('nonlinear o (b), sweep 2', nlCircB2, 2, false, 7.5),
    pts('nonlinear + (b)', nlPlusB, 2, true, 7),
    pts('nonlinear + (b), sweep 2', nlPlusB2, 2, true, 7)
  ],
  graphic: graphics
});
</script>
</body>
</html>
